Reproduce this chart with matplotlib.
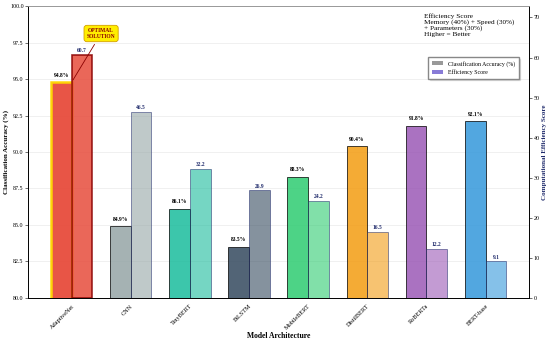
import numpy as np
import matplotlib.pyplot as plt
from matplotlib.patches import Patch

plt.rcParams['font.family'] = ['Liberation Serif', 'DejaVu Serif']

models = ["AdaptiveNet", "CNN", "TinyBERT", "BiLSTM", "MobileBERT",
          "DistilBERT", "RoBERTa", "BERT-base"]
accuracy = [94.8, 84.9, 86.1, 83.5, 88.3, 90.4, 91.8, 92.1]
efficiency = [60.7, 46.5, 32.2, 26.9, 24.2, 16.5, 12.2, 9.1]
colors = ["#e74c3c", "#95a5a6", "#1abc9c", "#34495e", "#2ecc71",
          "#f39c12", "#9b59b6", "#3498db"]

fig = plt.figure(figsize=(5.5, 3.4), dpi=100)
ax1 = fig.add_axes([0.051, 0.124, 0.911, 0.858])
ax2 = ax1.twinx()

x = np.arange(len(models))
w = 0.35

# accuracy bars
for i in range(len(models)):
    if i == 0:
        ax1.bar(x[i] - w / 2, accuracy[i], w, color=colors[i], alpha=0.95,
                edgecolor="#FFD700", linewidth=1.8, zorder=3)
    else:
        ax1.bar(x[i] - w / 2, accuracy[i], w, color=colors[i], alpha=0.85,
                edgecolor="black", linewidth=0.6, zorder=3)
    ax1.text(x[i] - w / 2, accuracy[i] + 0.3, f"{accuracy[i]}%", ha="center",
             va="bottom", fontsize=4, fontweight="bold")

# efficiency bars
for i in range(len(models)):
    if i == 0:
        ax2.bar(x[i] + w / 2, efficiency[i], w, color=colors[i], alpha=0.85,
                edgecolor="darkred", linewidth=1.2, zorder=3)
    else:
        ax2.bar(x[i] + w / 2, efficiency[i], w, color=colors[i], alpha=0.6,
                edgecolor="#1f2a6b", linewidth=0.6, zorder=3)
    ax2.text(x[i] + w / 2, efficiency[i] + 0.4, f"{efficiency[i]}", ha="center",
             va="bottom", fontsize=4, fontweight="bold", color="#1f2a6b")

ax1.set_ylim(80, 100)
ax2.set_ylim(0, max(efficiency) * 1.2)
ax1.set_yticks(np.arange(80, 100.1, 2.5))
ax1.set_yticklabels([f"{v:.1f}" for v in np.arange(80, 100.1, 2.5)])
ax2.set_yticks(np.arange(0, 71, 10))

ax1.set_xticks(x)
ax1.set_xticklabels(models, rotation=45, ha="right", fontsize=4.5,
                    rotation_mode="anchor")
ax1.tick_params(axis="y", labelsize=4.3, length=2, width=0.4, pad=1.2)
ax1.tick_params(axis="x", length=0, pad=4)
ax2.tick_params(axis="y", labelsize=4.3, length=2, width=0.4, pad=1.2)

ax1.set_xlabel("Model Architecture", fontsize=5.5, fontweight="bold", labelpad=1)
ax1.set_ylabel("Classification Accuracy (%)", fontsize=5, fontweight="bold",
               labelpad=1)
ax2.set_ylabel("Computational Efficiency Score", fontsize=5, fontweight="bold",
               color="#1f2a6b", labelpad=1.5)

ax1.grid(axis="y", color="#dddddd", linewidth=0.5, alpha=0.6, zorder=0)
ax1.set_axisbelow(True)
for a in (ax1, ax2):
    for s in a.spines.values():
        s.set_linewidth(0.6)
    a.spines["top"].set_color("#999999")

ax2.annotate("OPTIMAL\nSOLUTION", xy=(0, 53.8), xytext=(0.5, 66.0),
             ha="center", va="center", fontsize=4, fontweight="bold",
             color="darkred",
             bbox=dict(boxstyle="round,pad=0.5", fc="#FFEE00", ec="#d4a000",
                       lw=0.6),
             arrowprops=dict(arrowstyle="-", color="darkred", lw=0.6),
             zorder=5)

ax2.text(0.79, 0.975, "Efficiency Score\nMemory (40%) + Speed (30%)\n"
         "+ Parameters (30%)\nHigher = Better", transform=ax2.transAxes,
         ha="left", va="top", fontsize=5.2, linespacing=1.1,
         bbox=dict(fc="white", ec="none", alpha=0.8, pad=1))

handles = [Patch(facecolor="gray", alpha=0.8, label="Classification Accuracy (%)"),
           Patch(facecolor="slateblue", alpha=0.8, label="Efficiency Score")]
ax2.legend(handles=handles, loc="upper right", bbox_to_anchor=(0.985, 0.835),
           fontsize=4.2, frameon=True,
           shadow={"ox": 1, "oy": -1, "alpha": 0.15}, fancybox=False,
           handlelength=2, borderpad=0.6, labelspacing=0.5, edgecolor="#888888")

fig.savefig("out.png", dpi=100)
